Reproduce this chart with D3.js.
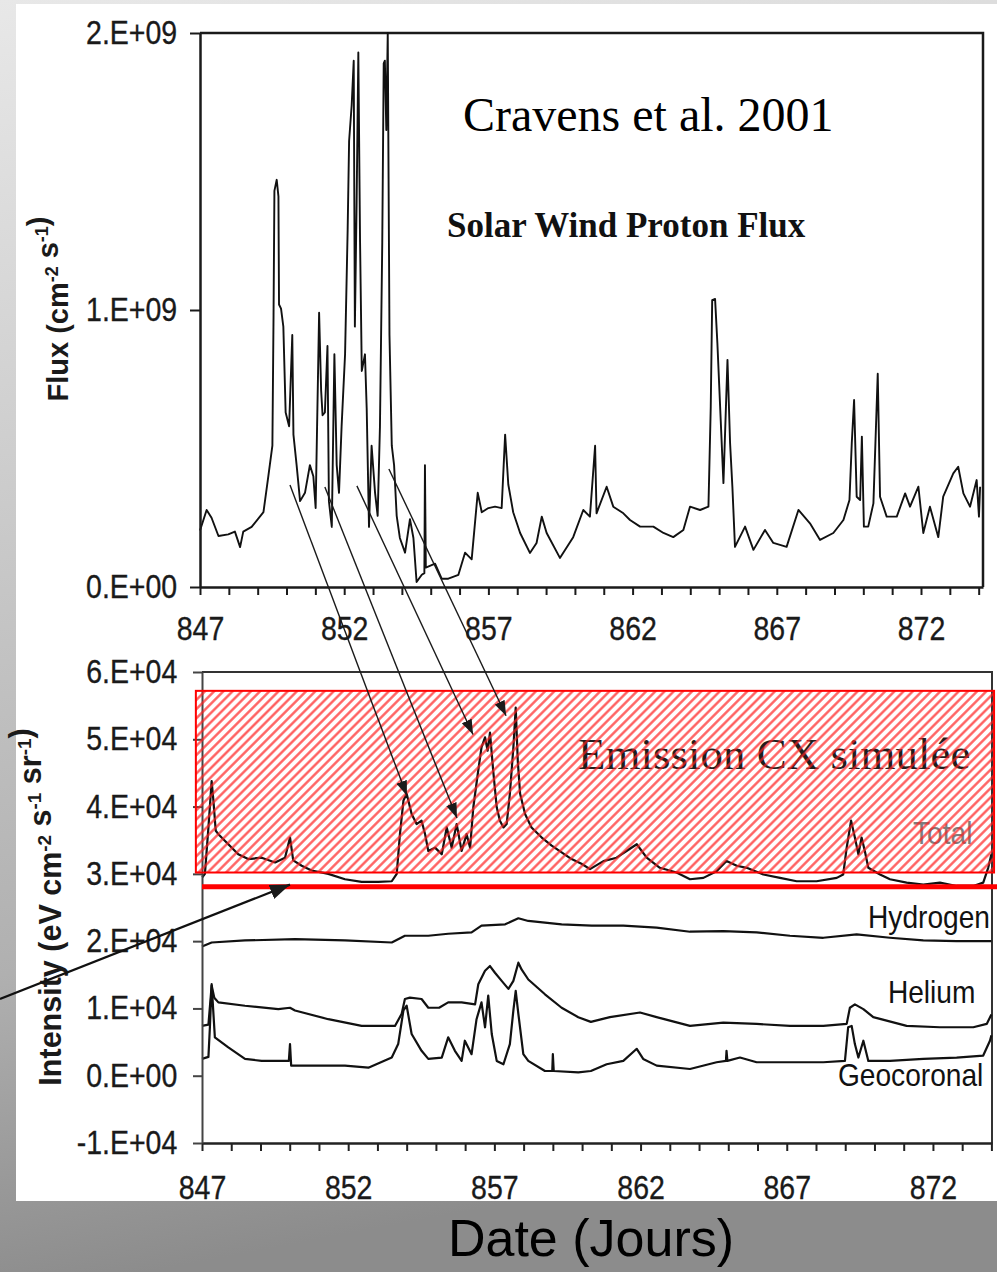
<!DOCTYPE html>
<html>
<head>
<meta charset="utf-8">
<script src="https://cdn.jsdelivr.net/npm/d3@7"></script>
<style>
  body { margin: 0; background: #fff; }
  svg { display: block; }
  .tick text { font-family: "Liberation Sans", Arial, sans-serif; font-size: 30px; fill: #1a1a1a; stroke: #1a1a1a; stroke-width: 0.3px; }
</style>
</head>
<body>
<div id="chart"></div>
<script>
// values (days, flux in 1E+09 cm-2 s-1, intensity in 1E+04)
var dayLabels = [847, 852, 857, 862, 867, 872];
var fluxTicks = [0, 1, 2];
var fluxTickLabels = ["0.E+00", "1.E+09", "2.E+09"];
var intensityTicks = [-1, 0, 1, 2, 3, 4, 5, 6];
var intensityTickLabels = ["-1.E+04", "0.E+00", "1.E+04", "2.E+04", "3.E+04", "4.E+04", "5.E+04", "6.E+04"];

var flux = [[847.00,0.204],[847.23,0.278],[847.40,0.25],[847.64,0.184],[847.98,0.19],[848.21,0.20],[848.39,0.144],[848.50,0.20],[848.79,0.217],[849.20,0.27],[849.37,0.40],[849.51,0.51],[849.55,0.98],[849.58,1.43],[849.66,1.47],[849.72,1.41],[849.74,1.02],[849.81,1.005],[849.89,0.94],[849.97,0.63],[850.09,0.58],[850.20,0.91],[850.24,0.55],[850.35,0.44],[850.47,0.31],[850.64,0.34],[850.81,0.44],[850.93,0.40],[851.01,0.285],[851.13,0.99],[851.20,0.71],[851.25,0.62],[851.33,0.63],[851.42,0.87],[851.47,0.31],[851.57,0.217],[851.66,0.84],[851.74,0.44],[851.82,0.34],[851.91,0.58],[852.03,0.84],[852.12,1.29],[852.17,1.61],[852.26,1.74],[852.33,1.90],[852.37,0.94],[852.43,1.38],[852.49,1.93],[852.55,1.245],[852.61,0.78],[852.72,0.84],[852.78,0.645],[852.86,0.217],[852.95,0.51],[853.07,0.34],[853.16,0.257],[853.24,0.58],[853.32,1.245],[853.37,1.89],[853.41,1.90],[853.46,1.65],[853.51,2.0],[853.57,0.91],[853.65,0.51],[853.73,0.44],[853.82,0.257],[853.93,0.177],[854.11,0.124],[854.28,0.245],[854.40,0.177],[854.51,0.018],[854.69,0.044],[854.78,0.05],[854.80,0.44],[854.83,0.07],[855.15,0.084],[855.38,0.03],[855.61,0.03],[855.96,0.044],[856.19,0.124],[856.42,0.10],[856.63,0.34],[856.77,0.27],[857.00,0.285],[857.23,0.29],[857.46,0.285],[857.58,0.55],[857.69,0.37],[857.86,0.27],[858.10,0.195],[858.44,0.123],[858.67,0.159],[858.85,0.254],[859.02,0.195],[859.48,0.105],[859.94,0.18],[860.29,0.278],[860.52,0.254],[860.70,0.51],[860.75,0.266],[861.10,0.362],[861.33,0.29],[861.68,0.266],[861.91,0.242],[862.26,0.218],[862.72,0.218],[863.07,0.195],[863.41,0.18],[863.76,0.206],[863.99,0.29],[864.34,0.278],[864.63,0.29],[864.71,0.651],[864.76,1.036],[864.86,1.04],[864.94,0.88],[865.15,0.375],[865.29,0.82],[865.38,0.52],[865.46,0.362],[865.55,0.145],[865.90,0.218],[866.19,0.134],[866.59,0.206],[866.88,0.159],[867.34,0.145],[867.75,0.278],[868.15,0.23],[868.50,0.17],[868.96,0.195],[869.31,0.242],[869.52,0.314],[869.60,0.52],[869.68,0.675],[869.77,0.326],[869.89,0.314],[869.95,0.543],[870.02,0.218],[870.17,0.218],[870.35,0.302],[870.50,0.77],[870.58,0.326],[870.81,0.254],[871.16,0.254],[871.45,0.338],[871.62,0.29],[871.91,0.362],[872.08,0.195],[872.31,0.29],[872.60,0.18],[872.77,0.326],[873.12,0.41],[873.29,0.434],[873.47,0.338],[873.70,0.29],[873.93,0.386],[874.01,0.254],[874.05,0.362]];

var total = [[847.01,2.95],[847.10,3.0],[847.22,3.69],[847.33,4.38],[847.39,4.09],[847.47,3.64],[847.56,3.59],[847.90,3.44],[848.24,3.29],[848.58,3.22],[849.04,3.24],[849.50,3.17],[849.84,3.24],[850.01,3.54],[850.12,3.20],[850.41,3.12],[850.75,3.05],[851.32,3.00],[851.89,2.92],[852.46,2.88],[853.03,2.88],[853.49,2.89],[853.66,3.0],[853.77,3.59],[853.89,4.09],[854.00,4.19],[854.17,3.89],[854.34,3.74],[854.51,3.79],[854.63,3.59],[854.74,3.34],[854.97,3.39],[855.20,3.29],[855.37,3.69],[855.54,3.39],[855.71,3.74],[855.88,3.34],[856.05,3.59],[856.17,3.39],[856.28,3.99],[856.43,4.48],[856.56,4.88],[856.68,5.03],[856.77,4.83],[856.85,5.10],[856.96,4.53],[857.08,3.99],[857.19,3.79],[857.31,3.69],[857.42,3.74],[857.53,4.19],[857.65,4.88],[857.73,5.47],[857.80,4.68],[857.88,4.19],[858.05,3.89],[858.27,3.69],[858.62,3.54],[858.96,3.42],[859.30,3.32],[859.64,3.22],[859.98,3.15],[860.27,3.07],[860.73,3.19],[861.18,3.24],[861.52,3.34],[861.87,3.44],[862.21,3.24],[862.66,3.09],[863.23,3.02],[863.69,2.92],[864.15,2.94],[864.60,3.04],[864.94,3.19],[865.29,3.12],[865.63,3.09],[866.20,2.99],[866.77,2.94],[867.34,2.89],[868.02,2.89],[868.71,2.94],[868.93,2.99],[869.05,3.39],[869.20,3.79],[869.33,3.54],[869.45,3.29],[869.56,3.54],[869.67,3.34],[869.79,3.09],[870.19,2.99],[870.53,2.92],[871.10,2.87],[871.67,2.84],[872.24,2.87],[872.81,2.82],[873.38,2.82],[873.72,2.87],[873.89,3.09],[874.00,3.29]];

var hydrogen = [[847.0,1.92],[847.33,1.98],[848.47,2.01],[850.18,2.03],[851.89,2.01],[853.49,1.98],[853.94,2.08],[854.74,2.08],[855.42,2.11],[856.22,2.13],[856.56,2.23],[857.37,2.25],[857.82,2.34],[858.16,2.30],[859.30,2.25],[860.33,2.23],[861.41,2.23],[862.55,2.20],[863.69,2.14],[864.83,2.15],[865.97,2.13],[867.11,2.08],[868.25,2.05],[869.39,2.10],[870.53,2.05],[871.67,2.01],[872.81,2.00],[874.00,2.00]];

var helium = [[847.0,0.74],[847.22,0.76],[847.33,1.34],[847.42,1.16],[847.56,1.09],[848.47,1.04],[849.61,0.99],[850.01,1.01],[850.18,0.97],[851.32,0.84],[852.46,0.74],[853.60,0.74],[853.83,0.92],[853.94,1.14],[854.11,1.16],[854.51,1.14],[854.74,1.01],[855.11,1.01],[855.42,1.09],[855.88,1.09],[856.34,1.06],[856.45,1.36],[856.68,1.56],[856.85,1.63],[857.02,1.53],[857.25,1.41],[857.48,1.29],[857.65,1.41],[857.82,1.68],[857.93,1.58],[858.16,1.43],[858.73,1.21],[859.30,1.01],[859.87,0.87],[860.30,0.80],[860.95,0.87],[861.98,0.94],[862.55,0.87],[863.69,0.74],[864.83,0.79],[865.97,0.77],[867.11,0.74],[868.25,0.74],[869.05,0.77],[869.16,1.01],[869.33,1.06],[869.62,0.99],[869.96,0.87],[871.10,0.74],[872.24,0.72],[873.38,0.72],[873.84,0.77],[874.00,0.91]];

var geocoronal = [[847.0,0.25],[847.22,0.28],[847.27,0.72],[847.33,1.36],[847.44,0.57],[847.90,0.42],[848.47,0.25],[849.04,0.22],[849.97,0.22],[850.01,0.47],[850.05,0.15],[850.75,0.15],[851.89,0.15],[852.69,0.12],[853.49,0.27],[853.71,0.47],[853.89,0.97],[854.00,1.04],[854.17,0.62],[854.51,0.37],[854.74,0.25],[855.20,0.27],[855.42,0.57],[855.65,0.37],[855.88,0.22],[855.99,0.52],[856.22,0.32],[856.39,0.84],[856.56,1.09],[856.68,0.72],[856.79,1.19],[856.91,0.62],[857.08,0.22],[857.31,0.17],[857.53,0.47],[857.65,0.97],[857.73,1.26],[857.82,0.92],[857.99,0.32],[858.16,0.22],[858.73,0.07],[858.98,0.07],[859.00,0.32],[859.03,0.07],[859.87,0.05],[860.30,0.07],[860.84,0.17],[861.41,0.22],[861.87,0.40],[862.09,0.25],[862.55,0.15],[863.69,0.10],[864.60,0.20],[864.92,0.22],[864.94,0.37],[864.97,0.22],[865.40,0.27],[865.97,0.20],[867.11,0.20],[868.25,0.20],[868.99,0.22],[869.10,0.72],[869.22,0.74],[869.33,0.47],[869.45,0.27],[869.62,0.52],[869.79,0.22],[870.53,0.22],[871.67,0.25],[872.81,0.27],[873.72,0.30],[873.95,0.52],[874.0,0.60]];

// series labels placed at (day, intensity)
var seriesLabels = [
  { text: "Total", day: 871.32, value: 3.45, color: "#7d7d7d" },
  { text: "Hydrogen", day: 869.78, value: 2.20, color: "#111" },
  { text: "Helium", day: 870.46, value: 1.08, color: "#111" },
  { text: "Geocoronal", day: 868.75, value: -0.15, color: "#111" }
];

// arrows: from a point of the flux panel to a point of the intensity panel
var arrows = [
  { from: [850.12, 0.368], to: [854.01, 4.16] },
  { from: [851.33, 0.361], to: [855.72, 3.83] },
  { from: [852.44, 0.365], to: [856.27, 5.07] },
  { from: [853.55, 0.426], to: [857.40, 5.35] }
];

var W = 997, H = 1272;

var svg = d3.select("#chart").append("svg")
    .attr("width", W)
    .attr("height", H);

var defs = svg.append("defs");

//grey slide background
var bg = defs.append("linearGradient")
    .attr("id", "bg")
    .attr("x1", 0).attr("y1", 0)
    .attr("x2", 0.15).attr("y2", 1);
bg.append("stop").attr("offset", "0%").attr("stop-color", "#e8e8e8");
bg.append("stop").attr("offset", "75%").attr("stop-color", "#b0b0b0");
bg.append("stop").attr("offset", "100%").attr("stop-color", "#8c8c8c");

//red hatch for the simulated emission box
var hatch = defs.append("pattern")
    .attr("id", "hatch")
    .attr("patternUnits", "userSpaceOnUse")
    .attr("width", 6.5)
    .attr("height", 6.5)
    .attr("patternTransform", "rotate(45)");
hatch.append("line")
    .attr("x1", 3.25).attr("y1", 0)
    .attr("x2", 3.25).attr("y2", 6.5)
    .attr("stroke", "#ff2020")
    .attr("stroke-width", 2.3)
    .attr("stroke-opacity", 0.75);

function addHead(id, len, wid){
    defs.append("marker")
        .attr("id", id)
        .attr("viewBox", "0 0 10 10")
        .attr("refX", 10)
        .attr("refY", 5)
        .attr("markerWidth", len)
        .attr("markerHeight", wid)
        .attr("markerUnits", "userSpaceOnUse")
        .attr("preserveAspectRatio", "none")
        .attr("orient", "auto")
        .append("path")
            .attr("d", "M0,0L10,5L0,10z")
            .attr("fill", "#1a1a1a");
}
addHead("headSmall", 15, 11);
addHead("headBig", 20, 15);

svg.append("rect")
    .attr("width", W)
    .attr("height", H)
    .attr("fill", "url(#bg)");

svg.append("rect")
    .attr("x", 16)
    .attr("y", 4)
    .attr("width", W - 16)
    .attr("height", 1197)
    .attr("fill", "#fff");

//Scales for the two panels
var xTop = d3.scaleLinear().domain([847, 874.15]).range([200, 983]);
var yTop = d3.scaleLinear().domain([0, 2]).range([587, 33]);
var xBot = d3.scaleLinear().domain([847, 874.02]).range([202, 992]);
var yBot = d3.scaleLinear().domain([-1, 6]).range([1143, 672]);

var allDays = d3.range(847, 875);
var stretch = "scale(0.95,1.1)";

function dayFormat(d){
    return dayLabels.indexOf(d) >= 0 ? d : "";
}

function styleAxis(g, color){
    g.select(".domain").attr("stroke", color).attr("stroke-width", 2.5);
    g.selectAll(".tick line").attr("stroke", color).attr("stroke-width", 2);
}

// ---------- top panel : solar wind proton flux ----------
var fluxPanel = svg.append("g");

//frame (top and right side)
fluxPanel.append("path")
    .attr("d", "M" + xTop.range()[0] + "," + yTop(2) + "H" + xTop.range()[1] + "V" + yTop(0))
    .attr("fill", "none")
    .attr("stroke", "#1a1a1a")
    .attr("stroke-width", 2.5);

fluxPanel.append("path")
    .datum(flux)
    .attr("fill", "none")
    .attr("stroke", "#111")
    .attr("stroke-width", 1.9)
    .attr("stroke-linejoin", "round")
    .attr("d", d3.line().x(function(d){ return xTop(d[0]); }).y(function(d){ return yTop(d[1]); }));

var xAxisTop = fluxPanel.append("g")
    .attr("transform", "translate(0," + yTop(0) + ")")
    .call(d3.axisBottom(xTop).tickValues(allDays).tickFormat(dayFormat).tickSize(8).tickSizeOuter(0).tickPadding(19));
styleAxis(xAxisTop, "#1a1a1a");
xAxisTop.selectAll("text").attr("transform", stretch);

var yAxisTop = fluxPanel.append("g")
    .attr("transform", "translate(" + xTop.range()[0] + ",0)")
    .call(d3.axisLeft(yTop).tickValues(fluxTicks).tickFormat(function(d, i){ return fluxTickLabels[i]; }).tickSize(10).tickSizeOuter(0).tickPadding(14));
styleAxis(yAxisTop, "#1a1a1a");
yAxisTop.selectAll("text").attr("transform", stretch);

function unitLabel(parent, x, y, size, parts){
    var t = parent.append("text")
        .attr("transform", "translate(" + x + "," + y + ") rotate(-90)")
        .attr("text-anchor", "middle")
        .attr("font-family", "'Liberation Sans', Arial, sans-serif")
        .attr("font-weight", "bold")
        .attr("font-size", size)
        .attr("fill", "#1a1a1a");
    parts.forEach(function(p){
        if(p.sup){
            t.append("tspan").attr("dy", -10).attr("font-size", size * 0.62).text(p.t);
            t.append("tspan").attr("dy", 10).text("");
        } else {
            t.append("tspan").text(p.t);
        }
    });
}

unitLabel(fluxPanel, 68, 309, 29, [{t: "Flux (cm"}, {t: "-2", sup: true}, {t: " s"}, {t: "-1", sup: true}, {t: ")"}]);

fluxPanel.append("text")
    .attr("x", 463)
    .attr("y", 131)
    .attr("font-family", "'Liberation Serif', 'Times New Roman', serif")
    .attr("font-size", 48)
    .attr("fill", "#000")
    .text("Cravens et al. 2001");

fluxPanel.append("text")
    .attr("x", 447)
    .attr("y", 237)
    .attr("font-family", "'Liberation Serif', 'Times New Roman', serif")
    .attr("font-weight", "bold")
    .attr("font-size", 35)
    .attr("fill", "#111")
    .text("Solar Wind Proton Flux");

// ---------- bottom panel : simulated intensity ----------
var cxPanel = svg.append("g");

cxPanel.append("path")
    .attr("d", "M" + xBot.range()[0] + "," + yBot(6) + "H" + xBot.range()[1] + "V" + yBot(-1))
    .attr("fill", "none")
    .attr("stroke", "#333")
    .attr("stroke-width", 2);

var lineBot = d3.line()
    .x(function(d){ return xBot(d[0]); })
    .y(function(d){ return yBot(d[1]); });

[total, hydrogen, helium, geocoronal].forEach(function(series){
    cxPanel.append("path")
        .datum(series)
        .attr("fill", "none")
        .attr("stroke", "#111")
        .attr("stroke-width", 2.2)
        .attr("stroke-linejoin", "round")
        .attr("d", lineBot);
});

var xAxisBot = cxPanel.append("g")
    .attr("transform", "translate(0," + yBot(-1) + ")")
    .call(d3.axisBottom(xBot).tickValues(allDays).tickFormat(dayFormat).tickSize(8).tickSizeOuter(0).tickPadding(21.5));
styleAxis(xAxisBot, "#222");
xAxisBot.selectAll("text").attr("transform", stretch);

var yAxisBot = cxPanel.append("g")
    .attr("transform", "translate(" + xBot.range()[0] + ",0)")
    .call(d3.axisLeft(yBot).tickValues(intensityTicks).tickFormat(function(d, i){ return intensityTickLabels[i]; }).tickSize(9).tickSizeOuter(0).tickPadding(17));
styleAxis(yAxisBot, "#444");
yAxisBot.select(".domain").attr("stroke-width", 2);
yAxisBot.selectAll("text").attr("transform", stretch);

unitLabel(cxPanel, 61, 907, 30.5, [{t: "Intensity (eV cm"}, {t: "-2", sup: true}, {t: " s"}, {t: "-1", sup: true}, {t: " sr"}, {t: "-1", sup: true}, {t: ")"}]);

cxPanel.selectAll(".serieslabel")
    .data(seriesLabels)
    .enter()
    .append("text")
        .attr("class", "serieslabel")
        .attr("transform", function(d){ return "translate(" + xBot(d.day) + "," + yBot(d.value) + ") scale(0.97,1.1)"; })
        .attr("font-family", "'Liberation Sans', Arial, sans-serif")
        .attr("font-size", 29)
        .attr("fill", function(d){ return d.color; })
        .text(function(d){ return d.text; });

cxPanel.append("text")
    .attr("x", 578)
    .attr("y", 769)
    .attr("font-family", "'Liberation Serif', 'Times New Roman', serif")
    .attr("font-size", 45)
    .attr("fill", "#1e1e1e")
    .text("Emission CX simulée");

//hatched box over the total emission
cxPanel.append("rect")
    .attr("x", xBot(846.79))
    .attr("y", yBot(5.72))
    .attr("width", xBot(874.09) - xBot(846.79))
    .attr("height", yBot(3.02) - yBot(5.72))
    .attr("fill", "url(#hatch)")
    .attr("stroke", "#ff0000")
    .attr("stroke-width", 2);

//thick red base line
cxPanel.append("line")
    .attr("x1", xBot(847))
    .attr("x2", W)
    .attr("y1", yBot(2.81))
    .attr("y2", yBot(2.81))
    .attr("stroke", "#ff0000")
    .attr("stroke-width", 5);

// ---------- arrows ----------
arrows.forEach(function(a){
    svg.append("line")
        .attr("x1", xTop(a.from[0]))
        .attr("y1", yTop(a.from[1]))
        .attr("x2", xBot(a.to[0]))
        .attr("y2", yBot(a.to[1]))
        .attr("stroke", "#1a1a1a")
        .attr("stroke-width", 1.4)
        .attr("marker-end", "url(#headSmall)");
});

svg.append("line")
    .attr("x1", xBot(840.09))
    .attr("y1", yBot(1.14))
    .attr("x2", xBot(850.01))
    .attr("y2", yBot(2.84))
    .attr("stroke", "#111")
    .attr("stroke-width", 2.2)
    .attr("marker-end", "url(#headBig)");

svg.append("text")
    .attr("x", 591)
    .attr("y", 1256)
    .attr("text-anchor", "middle")
    .attr("font-family", "'Liberation Sans', Arial, sans-serif")
    .attr("font-size", 52)
    .attr("fill", "#000")
    .text("Date (Jours)");
</script>
</body>
</html>
